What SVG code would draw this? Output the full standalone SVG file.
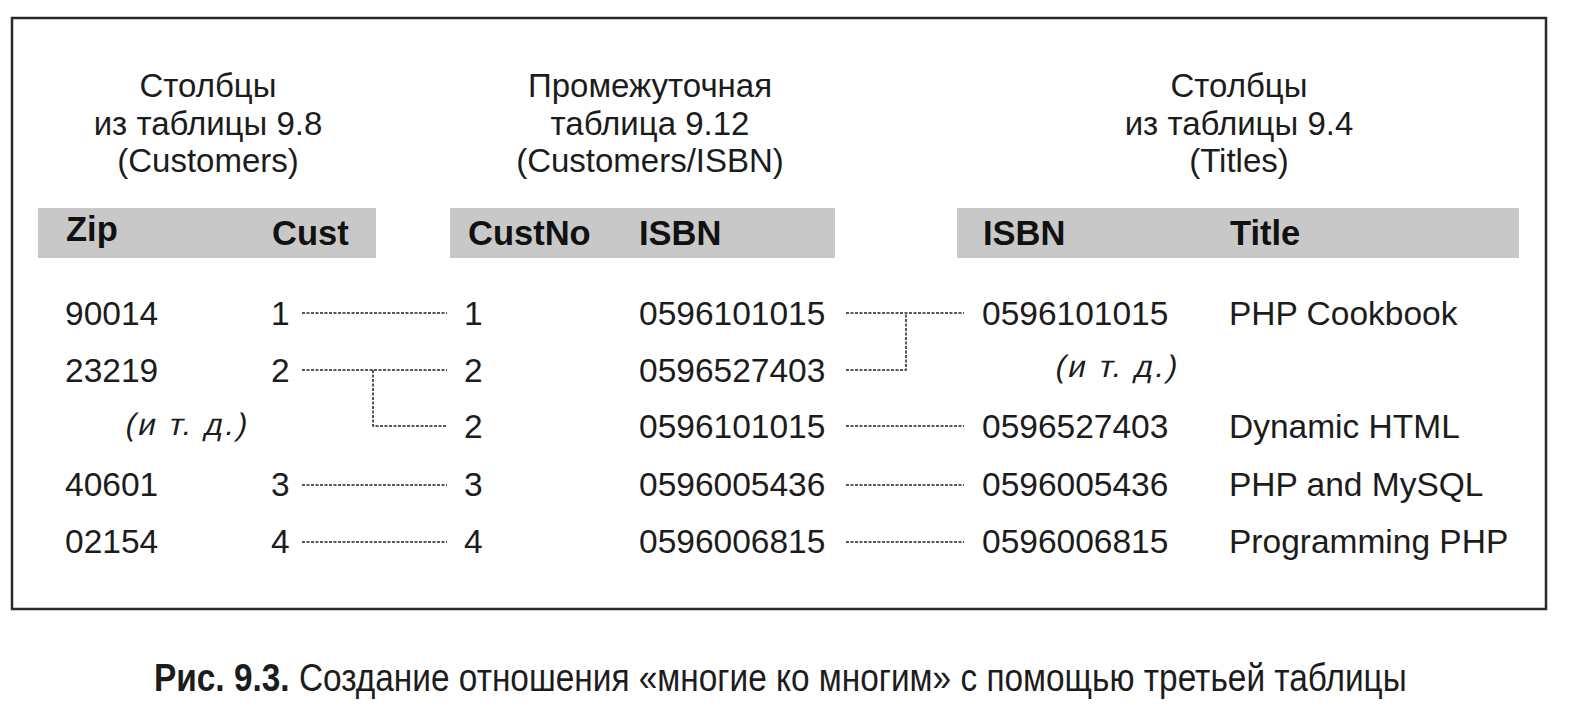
<svg xmlns="http://www.w3.org/2000/svg" width="1586" height="721" viewBox="0 0 1586 721">
<style>
.t{font-family:"Liberation Sans",Arial,sans-serif;font-size:33px;fill:#1c1c1c;text-anchor:middle}
.h{font-family:"Liberation Sans",Arial,sans-serif;font-size:34.5px;font-weight:bold;fill:#111}
.d{font-family:"Liberation Sans",Arial,sans-serif;font-size:33.5px;fill:#1c1c1c}
.e{font-family:"Liberation Sans",Arial,sans-serif;font-size:31px;fill:#1c1c1c;letter-spacing:2.5px}
.bar{fill:#c8c8c8}
.c{fill:none;stroke:#222;stroke-width:1.5;stroke-dasharray:3 1.5}
.cap{font-family:"Liberation Sans Narrow","Liberation Sans",Arial,sans-serif;font-size:38px;fill:#1c1c1c}
</style>
<rect width="1586" height="721" fill="#fff"/>
<rect id="frame" x="12" y="18" width="1534" height="591" fill="none" stroke="#2a2a2a" stroke-width="2.5"/>

<g id="customers">
<text class="t" x="208" y="97">Столбцы</text>
<text class="t" x="208" y="135">из таблицы 9.8</text>
<text class="t" x="208" y="172">(Customers)</text>
<rect class="bar" x="38" y="208" width="338" height="50"/>
<text class="h" x="66" y="241">Zip</text>
<text class="h" x="272" y="245">Cust</text>
<text class="d" x="65" y="325">90014</text>
<text class="d" x="65" y="382">23219</text>
<text class="e" transform="translate(124,435) skewX(-12)">(и т. д.)</text>
<text class="d" x="65" y="496">40601</text>
<text class="d" x="65" y="553">02154</text>
<text class="d" x="271" y="325">1</text>
<text class="d" x="271" y="382">2</text>
<text class="d" x="271" y="496">3</text>
<text class="d" x="271" y="553">4</text>
</g>

<g id="customers-isbn">
<text class="t" x="650" y="97">Промежуточная</text>
<text class="t" x="650" y="135">таблица 9.12</text>
<text class="t" x="650" y="172">(Customers/ISBN)</text>
<rect class="bar" x="450" y="208" width="385" height="50"/>
<text class="h" x="468" y="245">CustNo</text>
<text class="h" x="639" y="245">ISBN</text>
<text class="d" x="464" y="325">1</text>
<text class="d" x="464" y="382">2</text>
<text class="d" x="464" y="438">2</text>
<text class="d" x="464" y="496">3</text>
<text class="d" x="464" y="553">4</text>
<text class="d" x="639" y="325">0596101015</text>
<text class="d" x="639" y="382">0596527403</text>
<text class="d" x="639" y="438">0596101015</text>
<text class="d" x="639" y="496">0596005436</text>
<text class="d" x="639" y="553">0596006815</text>
</g>

<g id="titles">
<text class="t" x="1239" y="97">Столбцы</text>
<text class="t" x="1239" y="135">из таблицы 9.4</text>
<text class="t" x="1239" y="172">(Titles)</text>
<rect class="bar" x="957" y="208" width="562" height="50"/>
<text class="h" x="983" y="245">ISBN</text>
<text class="h" x="1230" y="245">Title</text>
<text class="d" x="982" y="325">0596101015</text>
<text class="e" transform="translate(1054,377) skewX(-12)">(и т. д.)</text>
<text class="d" x="982" y="438">0596527403</text>
<text class="d" x="982" y="496">0596005436</text>
<text class="d" x="982" y="553">0596006815</text>
<text class="d" x="1229" y="325">PHP Cookbook</text>
<text class="d" x="1229" y="438">Dynamic HTML</text>
<text class="d" x="1229" y="496">PHP and MySQL</text>
<text class="d" x="1229" y="553">Programming PHP</text>
</g>

<g id="connectors">
<path class="c" d="M302 313H447"/>
<path class="c" d="M302 370H447"/>
<path class="c" d="M373 370V426H447"/>
<path class="c" d="M302 485H447"/>
<path class="c" d="M302 542H447"/>
<path class="c" d="M846 313H964"/>
<path class="c" d="M846 370H906V313"/>
<path class="c" d="M846 426H964"/>
<path class="c" d="M846 485H964"/>
<path class="c" d="M846 542H964"/>
</g>

<g id="caption">
<text class="cap" transform="translate(154,691) scale(0.879,1)" x="0" y="0"><tspan font-weight="bold">Рис. 9.3.</tspan> Создание отношения «многие ко многим» с помощью третьей таблицы</text>
</g>
</svg>
